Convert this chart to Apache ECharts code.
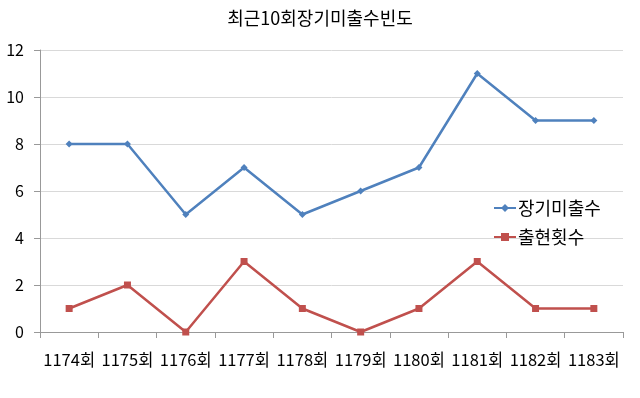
<!DOCTYPE html>
<html>
<head>
<meta charset="utf-8">
<script src="https://cdn.jsdelivr.net/npm/echarts@6/dist/echarts.min.js"></script>
<style>
  html, body { margin: 0; padding: 0; background: #fff; }
  #main { width: 640px; height: 398px; }
</style>
</head>
<body>
<div id="main"></div>
<script>
// 회차
var categories = ['1174회', '1175회', '1176회', '1177회', '1178회', '1179회', '1180회', '1181회', '1182회', '1183회'];
// 장기미출수
var longMissing = [8, 8, 5, 7, 5, 6, 7, 11, 9, 9];
// 출현횟수
var appearCount = [1, 2, 0, 3, 1, 0, 1, 3, 1, 1];
var yTicks = [0, 2, 4, 6, 8, 10, 12];

var font = '"Noto Sans CJK KR", "Noto Sans", sans-serif';
var chart = echarts.init(document.getElementById('main'));

var option = {
  backgroundColor: '#fff',
  animation: false,
  color: ['#4F81BD', '#C0504D'],
  title: {
    text: '최근10회장기미출수빈도',
    left: 'center',
    top: 4,
    textStyle: { fontFamily: font, fontSize: 18, fontWeight: 'normal', color: '#000' }
  },
  legend: {
    orient: 'vertical',
    left: 488,
    top: 192,
    itemWidth: 22,
    itemHeight: 10,
    itemGap: 7,
    textStyle: { fontFamily: font, fontSize: 18, color: '#000', lineHeight: 22, padding: [0, 0, 0, -3] },
    data: ['장기미출수', '출현횟수']
  },
  grid: { left: 40, right: 17, top: 50, bottom: 66 },
  xAxis: {
    type: 'category',
    data: categories,
    boundaryGap: true,
    axisLine: { lineStyle: { color: '#999' } },
    axisTick: { show: true, length: 6, lineStyle: { color: '#999' } },
    axisLabel: { fontFamily: font, fontSize: 16.5, color: '#000', margin: 19, interval: 0 }
  },
  yAxis: {
    type: 'value',
    min: yTicks[0],
    max: yTicks[yTicks.length - 1],
    interval: 2,
    axisLine: { show: true, lineStyle: { color: '#999' } },
    axisTick: { show: true, length: 6, lineStyle: { color: '#999' } },
    axisLabel: { fontFamily: font, fontSize: 16, color: '#000', margin: 16 },
    splitLine: { lineStyle: { color: '#d9d9d9', width: 1 } }
  },
  series: [
    {
      name: '장기미출수',
      type: 'line',
      data: longMissing,
      symbol: 'diamond',
      symbolSize: 7,
      lineStyle: { width: 2.5 },
      itemStyle: { color: '#4F81BD' }
    },
    {
      name: '출현횟수',
      type: 'line',
      data: appearCount,
      symbol: 'rect',
      symbolSize: 7,
      lineStyle: { width: 2.5 },
      itemStyle: { color: '#C0504D' }
    }
  ]
};

chart.setOption(option);
</script>
</body>
</html>
